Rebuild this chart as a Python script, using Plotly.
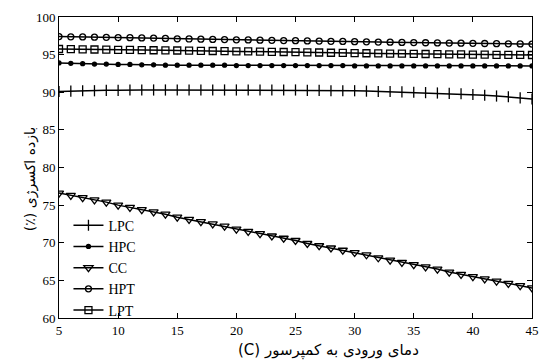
import plotly.graph_objects as go

x_vals = list(range(5, 46))

lpc = [90.1, 90.15, 90.2, 90.2, 90.25, 90.25, 90.3, 90.3, 90.3, 90.3, 90.3,
       90.3, 90.3, 90.3, 90.3, 90.3, 90.3, 90.3, 90.3, 90.3, 90.3,
       90.25, 90.25, 90.2, 90.2, 90.2, 90.15, 90.1, 90.1, 90.05, 90.0,
       89.95, 89.9, 89.85, 89.8, 89.7, 89.6, 89.5, 89.4, 89.25, 89.1]
hpc = [93.9, 93.85, 93.8, 93.75, 93.75, 93.7, 93.7, 93.65, 93.65, 93.6, 93.6,
       93.6, 93.6, 93.6, 93.6, 93.55, 93.55, 93.55, 93.55, 93.55, 93.55,
       93.55, 93.55, 93.55, 93.55, 93.5, 93.5, 93.5, 93.5, 93.5, 93.5,
       93.5, 93.5, 93.5, 93.5, 93.5, 93.5, 93.5, 93.5, 93.5, 93.5]
cc = [76.6, 76.3, 76.0, 75.7, 75.4, 75.0, 74.7, 74.4, 74.1, 73.8, 73.4,
      73.1, 72.8, 72.5, 72.2, 71.8, 71.5, 71.2, 70.9, 70.6, 70.3,
      69.9, 69.6, 69.3, 69.0, 68.7, 68.4, 68.0, 67.7, 67.4, 67.1,
      66.8, 66.5, 66.1, 65.8, 65.5, 65.2, 64.9, 64.6, 64.3, 64.0]
hpt = [97.4, 97.37, 97.35, 97.32, 97.3, 97.27, 97.25, 97.22, 97.2, 97.15, 97.1,
       97.08, 97.05, 97.02, 97.0, 96.97, 96.95, 96.92, 96.9, 96.87, 96.85,
       96.82, 96.8, 96.77, 96.75, 96.72, 96.7, 96.67, 96.65, 96.62, 96.6,
       96.58, 96.56, 96.54, 96.52, 96.5, 96.48, 96.46, 96.44, 96.42, 96.4]
lpt = [95.75, 95.72, 95.7, 95.68, 95.66, 95.64, 95.62, 95.6, 95.58, 95.57, 95.55,
       95.52, 95.5, 95.48, 95.46, 95.44, 95.42, 95.4, 95.37, 95.35, 95.33,
       95.3, 95.28, 95.25, 95.23, 95.2, 95.18, 95.16, 95.14, 95.12, 95.1,
       95.08, 95.06, 95.04, 95.02, 95.0, 94.99, 94.98, 94.97, 94.96, 94.95]

series_names = ["LPC", "HPC", "CC", "HPT", "LPT"]
series_values = [lpc, hpc, cc, hpt, lpt]
symbols = ["line-ns-open", "circle", "triangle-down-open", "circle-open", "square-open"]
sizes = [8, 4, 8, 6, 7]

x_tick_vals = [5, 10, 15, 20, 25, 30, 35, 40, 45]
y_tick_vals = [60, 65, 70, 75, 80, 85, 90, 95, 100]

x_title = "(C) دمای ورودی به کمپرسور"
y_title = "(٪) بازده اکسرژی"

fig = go.Figure()
for name, vals, sym, sz in zip(series_names, series_values, symbols, sizes):
    fig.add_trace(go.Scatter(
        x=x_vals, y=vals, name=name, mode="lines+markers",
        line=dict(color="black", width=1.5),
        marker=dict(symbol=sym, size=sz, color="black",
                    line=dict(color="black", width=1.3)),
    ))

axis_common = dict(
    showline=True, linecolor="black", linewidth=1, mirror="ticks",
    ticks="inside", ticklen=5, tickcolor="black", showgrid=False, zeroline=False,
    ticklabeloverflow="allow",
    tickfont=dict(family="Liberation Serif", size=13, color="black"),
)

fig.update_layout(
    width=545, height=363,
    margin=dict(l=59, r=6, t=17, b=45),
    paper_bgcolor="white", plot_bgcolor="white",
    showlegend=True,
    legend=dict(x=0.02, y=0.36, xanchor="left", yanchor="top",
                bgcolor="rgba(0,0,0,0)",
                font=dict(family="Liberation Serif", size=14, color="black"),
                itemwidth=30, tracegroupgap=0),
    xaxis=dict(range=[5, 45], tickvals=x_tick_vals, **axis_common),
    yaxis=dict(range=[60, 100], tickvals=y_tick_vals, **axis_common),
    annotations=[
        dict(text=x_title, xref="paper", yref="paper", x=0.57, y=-0.07,
             xanchor="center", yanchor="top", showarrow=False,
             font=dict(family="DejaVu Sans", size=15, color="black")),
        dict(text=y_title, xref="paper", yref="paper", x=-0.06, y=0.46,
             xanchor="center", yanchor="middle", showarrow=False, textangle=-90,
             font=dict(family="DejaVu Sans", size=14, color="black")),
    ],
)

fig.write_html("out.html")
